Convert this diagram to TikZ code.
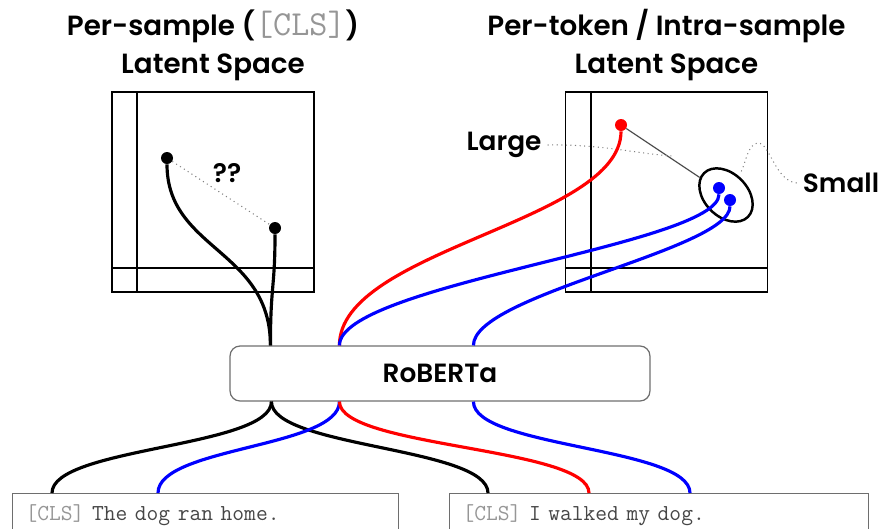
\documentclass[tikz,border=0pt]{standalone}
\usepackage{fontspec}
\setmainfont{Poppins}[BoldFont={Poppins SemiBold}]
\usetikzlibrary{positioning,calc,shapes.geometric}

\definecolor{boxgray}{RGB}{110,110,110}
\definecolor{clsgray}{RGB}{150,150,150}
\definecolor{txtgray}{RGB}{70,70,70}

\begin{document}
\begin{tikzpicture}[
    x=0.02cm, y=-0.02cm,
    every node/.style={font=\fontsize{15}{21.6}\selectfont\bfseries},
    space/.style={draw, line width=1.1pt, minimum width=4.04cm, minimum height=4cm, inner sep=0pt},
    title/.style={align=center, font=\fontsize{15.8}{21.6}\selectfont\bfseries},
    dot/.style={circle, fill, inner sep=0pt, minimum size=0.24cm},
    model/.style={draw=boxgray, line width=0.7pt, rounded corners=0.2cm, minimum width=8.4cm, minimum height=1.1cm},
    sentence/.style={draw=boxgray, line width=0.7pt, minimum height=0.88cm, anchor=north west, inner xsep=0.26cm, align=left, text=txtgray, font=\fontsize{13}{15}\selectfont\mdseries\ttfamily},
    wire/.style={line width=1.8pt},
    hint/.style={dotted, gray, line width=0.6pt}
]
\useasboundingbox (0,0) rectangle (881,528);
\clip (0,0) rectangle (881,528);

% the two latent spaces
\node[space] (clsbox) at (213,192) {};
\node[space] (tokbox) at (666.5,192) {};
\foreach \b in {clsbox,tokbox} {
  \draw[line width=1.1pt] ($(\b.north west)+(26,0)$) -- ($(\b.south west)+(26,0)$);
  \draw[line width=1.1pt] ($(\b.south west)+(0,-25)$) -- ($(\b.south east)+(0,-25)$);
}
\node[title] (clstitle) at (213,45) {Per-sample ({\mdseries\ttfamily\fontsize{20}{21}\selectfont\color{clsgray}[CLS]})\\Latent Space};
\node[title] (toktitle) at (666.5,45) {Per-token / Intra-sample\\Latent Space};

% embedded points
\node[dot] (cls1) at (167,158) {};
\node[dot] (cls2) at (275,228) {};
\node at (227,173) {??};
\draw[hint] (cls1) -- (cls2);

\node[dot, red] (tok1) at (621,125) {};
\node[dot, blue] (tok2) at (719,188) {};
\node[dot, blue] (tok3) at (730,200) {};
\node[draw, ellipse, line width=1.4pt, inner sep=0pt, minimum width=1.24cm, minimum height=0.86cm, rotate=-45] (grp) at (726,195) {};
\draw[gray!60!black, line width=0.7pt] (tok1) -- (grp);

\node (large) at (504,145) {Large};
\node (small) at (841,183) {Small};
\coordinate (lgend) at (672,156);
\coordinate (smend) at (741,172);
\draw[hint] (large.east) .. controls (600,144) and (640,154) .. (lgend);
\draw[hint] (small.west) .. controls (775,181) and (770,143) .. (758,143)
  .. controls (748,143) and (745,165) .. (smend);

% encoder and inputs
\node[model] (rob) at (440,373.5) {RoBERTa};
\node[sentence, text width=7.2cm] (sent1) at (12,493) {{\color{clsgray}[CLS]} The dog ran home.};
\node[sentence, text width=7.86cm] (sent2) at (449,493) {{\color{clsgray}[CLS]} I walked my dog.};

\coordinate (rt1) at ($(rob.north west)+(41,0)$);
\coordinate (rt2) at ($(rob.north west)+(110,0)$);
\coordinate (rt3) at ($(rob.north west)+(244,0)$);
\coordinate (rb1) at ($(rob.south west)+(42,0)$);
\coordinate (rb2) at ($(rob.south west)+(110,0)$);
\coordinate (rb3) at ($(rob.south west)+(244,0)$);
\coordinate (sa) at ($(sent1.north west)+(40,0)$);
\coordinate (sb) at ($(sent1.north west)+(146,0)$);
\coordinate (sc) at ($(sent2.north west)+(39,0)$);
\coordinate (sd) at ($(sent2.north west)+(140,0)$);
\coordinate (se) at ($(sent2.north west)+(241,0)$);

% tokens into the encoder
\draw[wire] (rb1) .. controls +(0,46) and +(0,-46) .. (sa);
\draw[wire] (rb1) .. controls +(0,46) and +(0,-46) .. (sc);
\draw[wire, blue] (rb2) .. controls +(0,46) and +(0,-46) .. (sb);
\draw[wire, red] (rb2) .. controls +(0,46) and +(0,-46) .. (sd);
\draw[wire, blue] (rb3) .. controls +(0,46) and +(0,-46) .. (se);

% encoder out to the latent spaces
\draw[wire] (cls1) .. controls +(0,92) and +(0,-96) .. (rt1);
\draw[wire] (cls2) .. controls +(0,60) and +(0,-60) .. (rt1);
\draw[wire, red] (rt2) .. controls +(0,-96) and +(0,97) .. (tok1);
\draw[wire, blue] (rt2) .. controls +(0,-61) and +(0,57) .. (tok2);
\draw[wire, blue] (rt3) .. controls +(0,-51) and +(0,50) .. (tok3);
\end{tikzpicture}
\end{document}
